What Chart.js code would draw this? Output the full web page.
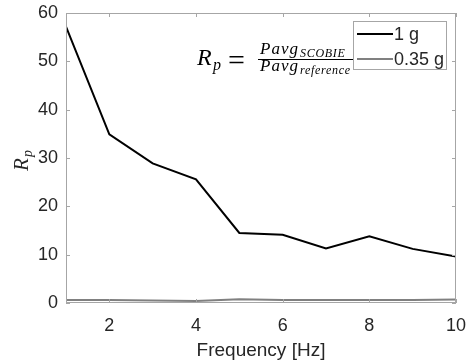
<!DOCTYPE html>
<html lang="en">
  <head>
    <meta charset="UTF-8" />
    <title>Rp vs frequency</title>
    <script src="https://cdn.jsdelivr.net/npm/chart.js"></script>
    <style>
      html, body { margin: 0; padding: 0; background: #fff; }
      #rpChart { display: block; }
    </style>
  </head>
  <body>
    <canvas id="rpChart" width="471" height="364"></canvas>
    <script>
      // frequency sweep and ratio values for both accelerations
      var frequencies = [1, 2, 3, 4, 5, 6, 7, 8, 9, 10];
      var rp1g = [57.2, 34.9, 28.9, 25.6, 14.5, 14.1, 11.3, 13.8, 11.2, 9.6];
      var rp035g = [0.6, 0.6, 0.5, 0.4, 0.8, 0.6, 0.6, 0.6, 0.6, 0.7];
      var xTicks = [2, 4, 6, 8, 10];
      var yTicks = [0, 10, 20, 30, 40, 50, 60];
      var seriesNames = ['1 g', '0.35 g'];

      var frameColor = '#a6a6a6';
      var textColor = '#262626';
      var sansFont = '"Liberation Sans", Arial, Helvetica, sans-serif';
      var serifFont = '"Liberation Serif", "DejaVu Serif", "Times New Roman", serif';

      function toPoints(xs, ys) {
        return xs.map(function (x, i) { return { x: x, y: ys[i] }; });
      }

      // frame with inward ticks, y label, formula and legend box
      var matlabLook = {
        id: 'matlabLook',
        afterDatasetsDraw: function (chart) {
          var ctx = chart.ctx;
          var a = chart.chartArea;
          var xs = chart.scales.x, ys = chart.scales.y;
          ctx.save();
          ctx.strokeStyle = frameColor;
          ctx.lineWidth = 1;
          ctx.strokeRect(a.left + 0.5, a.top + 0.5, a.right - a.left - 1, a.bottom - a.top - 1);
          ctx.beginPath();
          xTicks.forEach(function (t) {
            var px = Math.round(xs.getPixelForValue(t)) + 0.5;
            ctx.moveTo(px, a.bottom); ctx.lineTo(px, a.bottom - 4);
            ctx.moveTo(px, a.top); ctx.lineTo(px, a.top + 4);
          });
          yTicks.forEach(function (t) {
            var py = Math.round(ys.getPixelForValue(t)) + 0.5;
            ctx.moveTo(a.left, py); ctx.lineTo(a.left + 4, py);
            ctx.moveTo(a.right, py); ctx.lineTo(a.right - 4, py);
          });
          ctx.stroke();

          // y axis label R_p
          ctx.fillStyle = textColor;
          ctx.save();
          ctx.translate(28, 171);
          ctx.rotate(-Math.PI / 2);
          ctx.font = 'italic 21px ' + serifFont;
          ctx.textBaseline = 'alphabetic';
          ctx.fillText('R', 0, 0);
          ctx.font = 'italic 14px ' + serifFont;
          ctx.fillText('p', 14, 4);
          ctx.restore();

          // formula R_p = Pavg_SCOBIE / Pavg_reference
          ctx.fillStyle = '#000';
          ctx.textBaseline = 'alphabetic';
          ctx.font = 'italic 24px ' + serifFont;
          ctx.fillText('R', 197, 65);
          ctx.font = 'italic 16px ' + serifFont;
          ctx.fillText('p', 213, 70);
          ctx.font = '30px ' + serifFont;
          ctx.fillText('=', 228, 70);
          ctx.letterSpacing = '1px';
          ctx.font = 'italic 17px ' + serifFont;
          ctx.fillText('Pavg', 260, 54);
          ctx.fillText('Pavg', 260, 71);
          ctx.letterSpacing = '0.7px';
          ctx.font = 'italic 12px ' + serifFont;
          ctx.fillText('SCOBIE', 300, 57);
          ctx.fillText('reference', 300, 74);
          ctx.letterSpacing = '0px';
          ctx.fillRect(258, 59, 95, 1);

          // legend
          var lx = 353, ly = 21, lw = 94, lh = 49;
          ctx.fillStyle = '#fff';
          ctx.fillRect(lx, ly, lw, lh);
          ctx.strokeStyle = frameColor;
          ctx.strokeRect(lx + 0.5, ly + 0.5, lw - 1, lh - 1);
          var rows = [
            { name: seriesNames[0], color: '#000', y: 34 },
            { name: seriesNames[1], color: '#808080', y: 59 }
          ];
          ctx.font = '18px ' + sansFont;
          ctx.textBaseline = 'middle';
          rows.forEach(function (r) {
            ctx.strokeStyle = r.color;
            ctx.lineWidth = 2;
            ctx.beginPath();
            ctx.moveTo(357, r.y); ctx.lineTo(393, r.y);
            ctx.stroke();
            ctx.fillStyle = textColor;
            ctx.fillText(r.name, 394, r.y + 1);
          });
          ctx.restore();
        }
      };

      new Chart(document.getElementById('rpChart'), {
        type: 'line',
        data: {
          datasets: [
            {
              label: seriesNames[0],
              data: toPoints(frequencies, rp1g),
              borderColor: '#000',
              borderWidth: 2,
              pointRadius: 0,
              tension: 0
            },
            {
              label: seriesNames[1],
              data: toPoints(frequencies, rp035g),
              borderColor: '#808080',
              borderWidth: 2,
              pointRadius: 0,
              tension: 0
            }
          ]
        },
        options: {
          responsive: false,
          animation: false,
          events: [],
          layout: { padding: { top: 13, right: 15, left: 0, bottom: 0 } },
          plugins: { legend: { display: false }, tooltip: { enabled: false } },
          scales: {
            x: {
              type: 'linear',
              min: 1,
              max: 10,
              grid: { display: false, drawTicks: false },
              border: { display: false },
              afterBuildTicks: function (scale) {
                scale.ticks = xTicks.map(function (v) { return { value: v }; });
              },
              afterFit: function (scale) {
                scale.height = 61;
                scale.paddingLeft = 0;
                scale.paddingRight = 0;
              },
              ticks: {
                padding: 12,
                color: textColor,
                font: { family: sansFont, size: 18 },
                maxRotation: 0
              },
              title: {
                display: true,
                text: 'Frequency [Hz]',
                color: textColor,
                font: { family: sansFont, size: 19 },
                padding: { top: 0, bottom: 2 }
              }
            },
            y: {
              min: 0,
              max: 60,
              grid: { display: false, drawTicks: false },
              border: { display: false },
              afterBuildTicks: function (scale) {
                scale.ticks = yTicks.map(function (v) { return { value: v }; });
              },
              afterFit: function (scale) {
                scale.width = 66;
                scale.paddingTop = 0;
                scale.paddingBottom = 0;
              },
              ticks: {
                padding: 8,
                color: textColor,
                font: { family: sansFont, size: 18 }
              }
            }
          }
        },
        plugins: [matlabLook]
      });
    </script>
  </body>
</html>
